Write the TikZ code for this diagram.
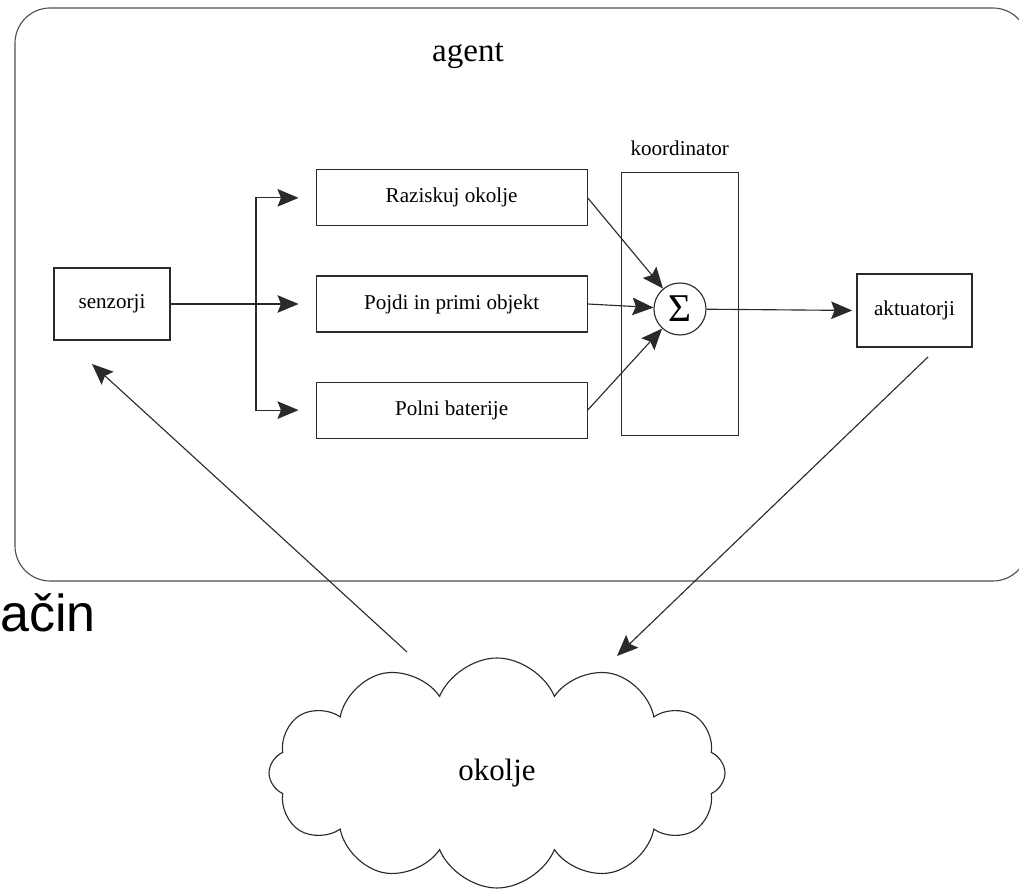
\documentclass[tikz,border=0pt]{standalone}
\usepackage{fontspec}
\setmainfont{Liberation Serif}
\newfontfamily\arialfont{Liberation Sans}
\usetikzlibrary{positioning, arrows.meta, shapes.symbols}
\definecolor{linegray}{HTML}{2A2A2A}
\definecolor{framegray}{HTML}{505050}

\begin{document}
\begin{tikzpicture}[font=\fontsize{15}{18}\selectfont,
    blok/.style={draw=linegray, line width=0.8pt, inner sep=0pt},
    arr/.style={-{Stealth[length=15pt, width=12.5pt, inset=2.5pt]}, linegray, line width=0.8pt}]
  \useasboundingbox (0,0) rectangle (25.475,22.225);
  % agent frame
  \draw[framegray, line width=0.8pt, rounded corners=25pt] (0.375,7.7) rectangle (25.7,22.025);
  \node[anchor=base, font=\fontsize{23.5}{28}\selectfont] (agent) at (11.7,20.675) {agent};
  \node[anchor=base west, inner sep=0pt, font=\arialfont\fontsize{37}{44}\selectfont] (nacin) at (0,6.425) {ačin};

  \node[blok, minimum width=2.9cm, minimum height=1.8cm] (sensors) at (2.8,14.625) {senzorji};
  \node[blok, minimum width=6.775cm, minimum height=1.4cm, right=3.625cm of sensors] (grab) {Pojdi in primi objekt};
  \node[blok, minimum width=6.775cm, minimum height=1.4cm, above=1.225cm of grab] (explore) {Raziskuj okolje};
  \node[blok, minimum width=6.775cm, minimum height=1.4cm, below=1.225cm of grab] (charge) {Polni baterije};
  \node[blok, minimum width=2.925cm, minimum height=6.575cm, right=0.825cm of grab] (coord) {};
  \node[above=7.8pt of coord] (coordlabel) {koordinator};
  \node[draw=linegray, circle, line width=0.8pt, minimum size=1.3cm, inner sep=0pt,
        font=\fontsize{28}{32}\selectfont] (sum) at (17,14.5) {Σ};
  \node[blok, minimum width=2.875cm, minimum height=1.825cm] (actuators) at (22.8625,14.4625) {aktuatorji};
  \node[cloud, draw=linegray, line width=0.8pt, cloud puffs=12, cloud puff arc=135, aspect=2,
        minimum width=11.4cm, minimum height=5.75cm, font=\fontsize{22}{26}\selectfont] (env) at (12.425,2.9) {okolje};

  % sensors to behaviours
  \coordinate (fork) at (6.4,14.625);
  \draw[linegray, line width=0.8pt] (sensors.east) -- (fork);
  \draw[arr, shorten >=0.425cm] (fork) |- (explore.west);
  \draw[arr, shorten >=0.425cm] (fork) -- (grab.west);
  \draw[arr, shorten >=0.425cm] (fork) |- (charge.west);
  % behaviours to sum
  \draw[arr] (explore.east) -- (sum);
  \draw[arr] (grab.east) -- (sum);
  \draw[arr] (charge.east) -- (sum);
  \draw[arr, shorten >=3pt] (sum) -- (actuators.west);
  % loop through the environment
  \coordinate (envout) at (10.175,5.925);
  \coordinate (sensin) at (2.3,13.125);
  \coordinate (actout) at (23.2,13.3);
  \coordinate (envin) at (15.425,5.825);
  \draw[arr] (envout) -- (sensin);
  \draw[arr] (actout) -- (envin);
\end{tikzpicture}
\end{document}
